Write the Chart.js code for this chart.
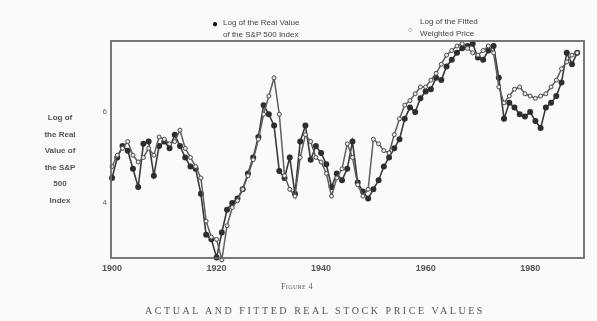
<!DOCTYPE html>
<html>
<head>
<meta charset="utf-8">
<script src="https://cdn.jsdelivr.net/npm/chart.js@4"></script>
<style>
  html, body { margin: 0; padding: 0; background: #fafaf8; }
  #wrap { position: relative; width: 597px; height: 321px; overflow: hidden; }
  canvas { position: absolute; left: 0; top: 0; }
  .t { position: absolute; color: #3a3a3a; font-family: "Liberation Sans", Arial, sans-serif; white-space: nowrap; }
  .ytitle { left: 30px; top: 110px; width: 60px; text-align: center; font-size: 8px; line-height: 16.6px; font-weight: bold; color: #555; }
  .leg { font-size: 8px; line-height: 12px; color: #444; }
  .fig { font-family: "Liberation Serif", serif; font-size: 8px; font-variant: small-caps; letter-spacing: 0.4px; color: #555; }
  .cap { font-family: "Liberation Serif", serif; font-size: 10px; letter-spacing: 2.55px; color: #555; }
</style>
</head>
<body>
<div id="wrap">
  <canvas id="c" width="597" height="321"></canvas>
  <div class="t ytitle">Log of<br>the Real<br>Value of<br>the S&amp;P<br>500<br>Index</div>
  <div class="t leg" style="left:212px;top:18px;"><span style="font-size:10px;color:#111;">&#9679;</span></div>
  <div class="t leg" style="left:223px;top:17px;">Log of the Real Value<br>of the S&amp;P 500 Index</div>
  <div class="t leg" style="left:408px;top:24px;"><span style="font-size:7px;">&#9675;</span></div>
  <div class="t leg" style="left:420px;top:16px;">Log of the Fitted<br>Weighted Price</div>
  <div class="t fig" style="left:281px;top:282px;">Figure 4</div>
  <div class="t cap" style="left:145px;top:305px;">ACTUAL AND FITTED REAL STOCK PRICE VALUES</div>
</div>
<script>
const years = [];
for (let y = 1900; y <= 1989; y++) years.push(y);

const actualLog = [
  4.55, 5.0, 5.25, 5.15, 4.75, 4.35, 5.3, 5.35, 4.6, 5.25,
  5.35, 5.2, 5.5, 5.25, 5.0, 4.8, 4.75, 4.2, 3.3, 3.2,
  2.8, 3.35, 3.85, 4.0, 4.1, 4.3, 4.65, 5.0, 5.45, 6.15,
  5.95, 5.7, 4.7, 4.55, 5.0, 4.2, 5.35, 5.7, 4.95, 5.25,
  5.1, 4.85, 4.35, 4.65, 4.5, 4.75, 5.35, 4.45, 4.25, 4.1,
  4.3, 4.5, 4.8, 5.0, 5.2, 5.4, 5.85, 6.1, 6.0, 6.3,
  6.45, 6.5, 6.75, 6.7, 7.0, 7.15, 7.3, 7.4, 7.45, 7.5,
  7.2, 7.15, 7.35, 7.45, 6.75, 5.85, 6.2, 6.1, 5.95, 5.9,
  6.0, 5.8, 5.65, 6.1, 6.2, 6.35, 6.65, 7.3, 7.05, 7.3
];

const fittedLog = [
  4.8, 5.05, 5.2, 5.35, 5.05, 4.9, 5.0, 5.2, 5.05, 5.45,
  5.4, 5.3, 5.35, 5.6, 5.2, 5.0, 4.8, 4.55, 3.6, 3.25,
  3.2, 2.75, 3.5, 3.9, 4.05, 4.3, 4.6, 4.95, 5.4, 5.95,
  6.35, 6.75, 5.95, 4.6, 4.3, 4.15, 5.0, 5.5, 5.35, 5.0,
  4.9, 4.65, 4.15, 4.55, 4.75, 5.3, 5.0, 4.4, 4.15, 4.3,
  5.4, 5.3, 5.15, 5.1, 5.5, 5.85, 6.15, 6.25, 6.4, 6.55,
  6.55, 6.7, 6.85, 7.05, 7.25, 7.35, 7.45, 7.5, 7.4, 7.3,
  7.25, 7.35, 7.45, 7.3, 6.55, 6.2, 6.35, 6.5, 6.55, 6.4,
  6.35, 6.3, 6.35, 6.4, 6.55, 6.7, 6.95, 7.1, 7.25, 7.3
];

const xTickLabels = [1900, 1920, 1940, 1960, 1980];
const yTickLabels = [4, 6];

const toPts = (vals) => vals.map((v, i) => ({ x: years[i], y: v }));

const frame = {
  id: 'frame',
  afterDatasetsDraw(chart) {
    const a = chart.chartArea, ctx = chart.ctx;
    ctx.save();
    ctx.strokeStyle = '#6a6a6a';
    ctx.lineWidth = 1.8;
    ctx.strokeRect(a.left, a.top, a.right - a.left, a.bottom - a.top);
    ctx.restore();
  }
};

new Chart(document.getElementById('c'), {
  type: 'line',
  data: {
    datasets: [
      {
        label: 'Log of the Fitted Weighted Price',
        data: toPts(fittedLog),
        borderColor: '#5e5e5e',
        borderWidth: 1.5,
        pointRadius: 2,
        pointBackgroundColor: '#e8e8e6',
        pointBorderColor: '#4a4a4a',
        pointBorderWidth: 1,
        tension: 0,
        clip: false
      },
      {
        label: 'Log of the Real Value of the S&P 500 Index',
        data: toPts(actualLog),
        borderColor: '#3a3a3a',
        borderWidth: 1.6,
        pointRadius: 2.2,
        pointBackgroundColor: '#2e2e2e',
        pointBorderColor: '#2e2e2e',
        tension: 0,
        clip: false
      }
    ]
  },
  options: {
    responsive: false,
    animation: false,
    layout: { padding: { left: 0, right: 13, top: 41, bottom: 0 } },
    plugins: { legend: { display: false }, tooltip: { enabled: false } },
    scales: {
      x: {
        type: 'linear',
        min: 1899.8,
        max: 1990.3,
        afterFit(s) { s.height = 63; },
        grid: { display: false, drawTicks: false, tickLength: 0 },
        border: { display: false },
        afterBuildTicks(s) { s.ticks = xTickLabels.map(v => ({ value: v })); },
        ticks: {
          color: '#555',
          font: { family: 'Liberation Sans', size: 9, weight: 'bold' },
          padding: 5,
          maxRotation: 0,
          callback: (v) => String(v)
        }
      },
      y: {
        min: 2.79,
        max: 7.56,
        afterFit(s) { s.width = 111; },
        grid: { display: false, drawTicks: false, tickLength: 0 },
        border: { display: false },
        afterBuildTicks(s) { s.ticks = yTickLabels.map(v => ({ value: v })); },
        ticks: {
          color: '#666',
          font: { family: 'Liberation Sans', size: 8 },
          padding: 4,
          callback: (v) => String(v)
        }
      }
    }
  },
  plugins: [frame]
});
</script>
</body>
</html>
